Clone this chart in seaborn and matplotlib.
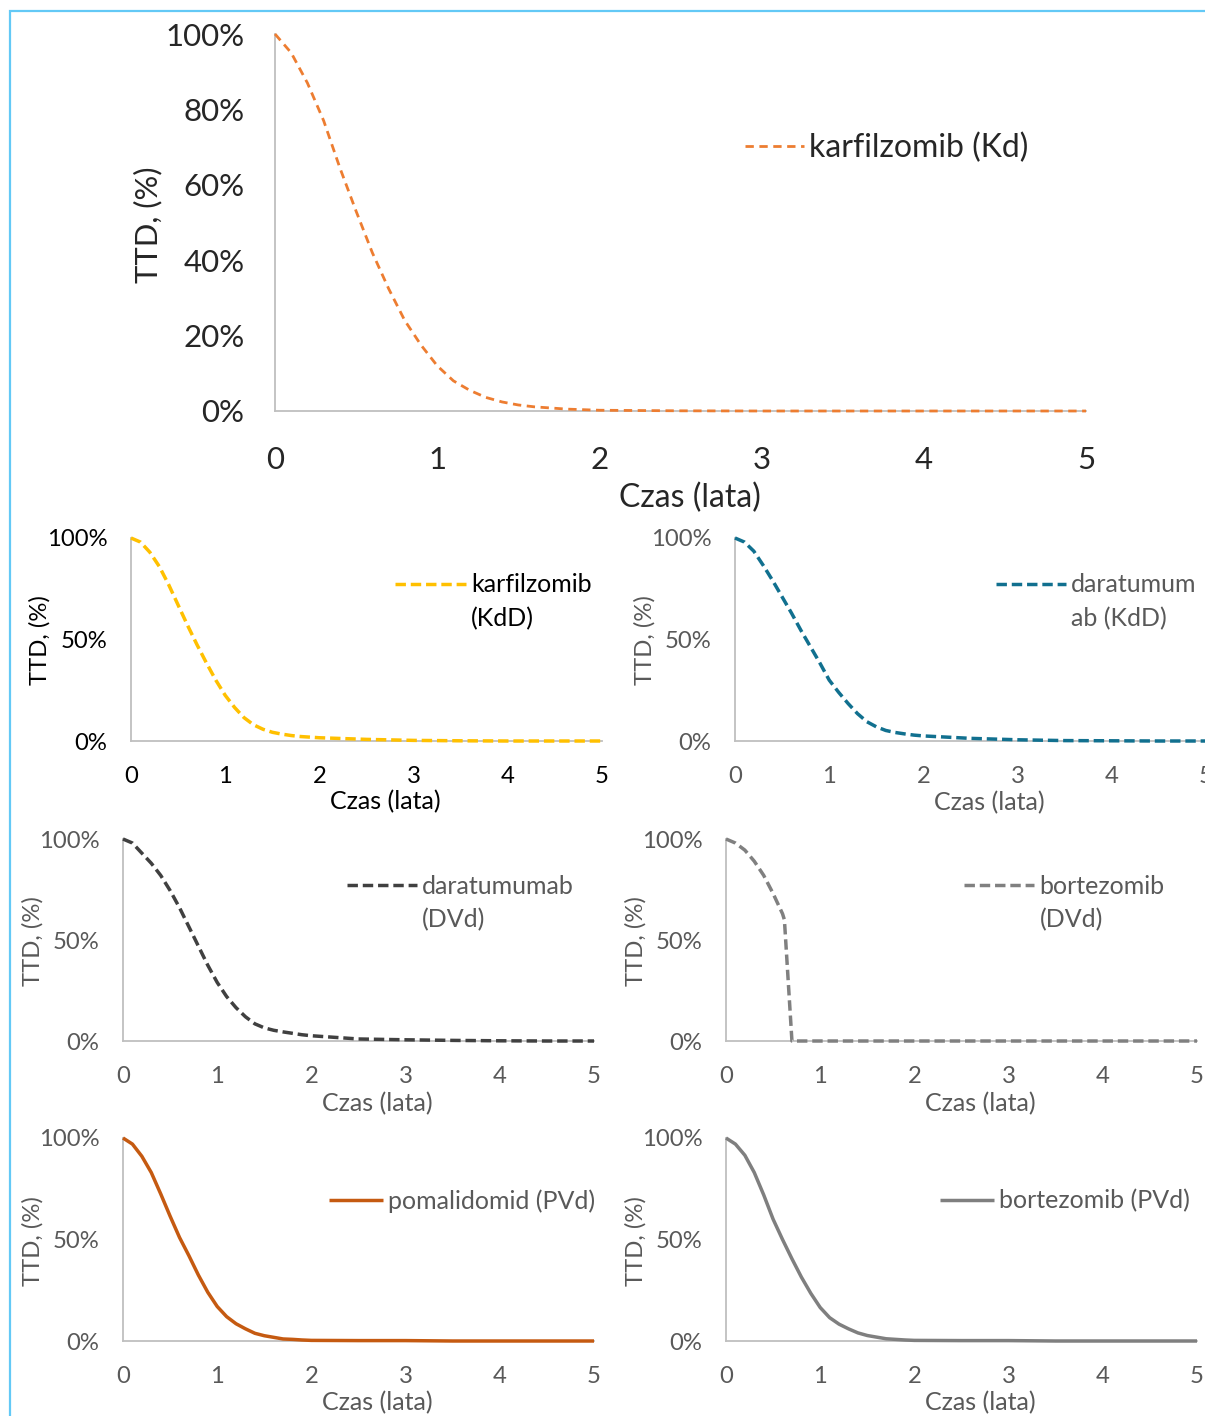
import matplotlib
matplotlib.use("Agg")
import matplotlib.pyplot as plt
import seaborn as sns
import pandas as pd
from matplotlib.patches import Rectangle
from matplotlib.ticker import PercentFormatter

# ---- data: time to discontinuation (%) over time (years) ----
years = [0, 0.1, 0.2, 0.3, 0.4, 0.5, 0.6, 0.7, 0.8, 0.9, 1.0,
         1.1, 1.2, 1.3, 1.4, 1.5, 1.6, 1.7, 1.8, 1.9, 2.0,
         2.5, 3.0, 3.5, 4.0, 4.5, 5.0]

karf_kd = [100, 95, 87, 77, 64.5, 53, 42, 32.5, 24, 17.5, 12,
           8, 5.5, 3.6, 2.4, 1.6, 1.1, 0.8, 0.5, 0.35, 0.2,
           0.05, 0, 0, 0, 0, 0]

karf_kdd = [100, 98, 93, 86, 77, 67, 57, 47.5, 38.5, 30, 22.5,
            16.5, 11.5, 8, 5.8, 4.3, 3.4, 2.7, 2.2, 1.9, 1.6,
            0.8, 0.3, 0.1, 0, 0, 0]

dara_kdd = [100, 98, 93.5, 86.5, 79, 71, 63, 54.5, 46.5, 38.5, 30,
            24, 18.5, 13.5, 9.5, 7, 5.2, 4.2, 3.5, 2.9, 2.5,
            1.3, 0.6, 0.2, 0.1, 0, 0]

dara_dvd = [100, 98, 93, 88, 82, 74.5, 66, 56.5, 47, 37.5, 29,
            22, 16.5, 12, 8.5, 6.5, 5.3, 4.5, 3.8, 3.1, 2.6,
            1.0, 0.6, 0.3, 0.1, 0, 0]

bort_dvd_years = [0, 0.1, 0.2, 0.3, 0.4, 0.5, 0.6, 0.62, 0.7, 1, 2, 3, 4, 5]
bort_dvd = [100, 98, 94.5, 89, 82, 73, 63, 60, 0, 0, 0, 0, 0, 0]

poma_pvd = [100, 97, 91, 83, 72.5, 61.5, 51, 42, 32.5, 24, 17,
            12, 8.5, 6, 3.8, 2.6, 1.8, 1.0, 0.8, 0.5, 0.3,
            0.2, 0.2, 0, 0, 0, 0]

bort_pvd = [100, 97, 91.5, 83, 72, 60, 50, 40.5, 31.5, 23.5, 16.5,
            11.5, 8.3, 6, 4, 2.7, 1.9, 1.1, 0.8, 0.5, 0.3,
            0.2, 0.2, 0, 0, 0, 0]

x_ticks = [0, 1, 2, 3, 4, 5]
y_label = "TTD, (%)"
x_label = "Czas (lata)"

# ---- style ----
sns.set_theme(style="white")
plt.rcParams["font.family"] = ["Lato", "DejaVu Sans"]

W, H = 1205, 1416
fig = plt.figure(figsize=(W / 100, H / 100), dpi=100)

# light blue frame around the figure
fig.patches.append(Rectangle((10 / W, -0.02), 1.0, 1 - 11 / H + 0.02,
                             transform=fig.transFigure, fill=False,
                             edgecolor="#63C9F6", lw=1.6))

GRAY_TXT = "#595959"

small = dict(fs=17.2, lfs=18, xpad=18, ypad=17)
big = dict(fs=22.5, lfs=23, xpad=25, ypad=22)

panels = [
    dict(box=(275, 1086, 34, 411), t=years, v=karf_kd, color="#ED7D31", lw=2.0,
         dash=(3.0, 2.0), lab=("karfilzomib (Kd)", None), leg=(745, 148),
         hl=1.85, htp=0.15, tc="#262626", yt=[0, 20, 40, 60, 80, 100],
         ylab=(148, 225), xlab=(690, 498), **big),
    dict(box=(131, 602, 538, 741), t=years, v=karf_kdd, color="#FFC000", lw=2.5,
         dash=(3.0, 1.4), lab=("karfilzomib", "(KdD)"), leg=(395, 585),
         hl=2.85, htp=0.2, tc="#000000", yt=[0, 50, 100],
         ylab=(40, 640), xlab=(385, 802), **small),
    dict(box=(735, 1206, 538, 741), t=years, v=dara_kdd, color="#11708F", lw=2.5,
         dash=(3.0, 1.4), lab=("daratumum", "ab (KdD)"), leg=(996, 585),
         hl=2.8, htp=0.2, tc=GRAY_TXT, yt=[0, 50, 100],
         ylab=(645, 640), xlab=(989, 803), **small),
    dict(box=(123, 594, 839, 1041), t=years, v=dara_dvd, color="#404040", lw=2.5,
         dash=(3.0, 1.4), lab=("daratumumab", "(DVd)"), leg=(347, 886),
         hl=2.8, htp=0.2, tc=GRAY_TXT, yt=[0, 50, 100],
         ylab=(33, 941), xlab=(377, 1104), **small),
    dict(box=(726, 1197, 839, 1041), t=bort_dvd_years, v=bort_dvd, color="#808080",
         lw=2.5, dash=(3.0, 1.4), lab=("bortezomib", "(DVd)"), leg=(964, 886),
         hl=2.8, htp=0.22, tc=GRAY_TXT, yt=[0, 50, 100],
         ylab=(636, 941), xlab=(980, 1104), **small),
    dict(box=(123, 594, 1138, 1341), t=years, v=poma_pvd, color="#C55A11", lw=2.5,
         dash=None, lab=("pomalidomid (PVd)", None), leg=(329, 1201),
         hl=2.15, htp=0.2, tc=GRAY_TXT, yt=[0, 50, 100],
         ylab=(33, 1241), xlab=(377, 1403), **small),
    dict(box=(726, 1197, 1138, 1341), t=years, v=bort_pvd, color="#7F7F7F", lw=2.5,
         dash=None, lab=("bortezomib (PVd)", None), leg=(940, 1201),
         hl=2.15, htp=0.2, tc=GRAY_TXT, yt=[0, 50, 100],
         ylab=(636, 1241), xlab=(980, 1403), **small),
]

for p in panels:
    x0, x5, top, bottom = p["box"]
    ax = fig.add_axes([x0 / W, 1 - bottom / H, (x5 - x0) / W, (bottom - top) / H])
    df = pd.DataFrame({"czas": p["t"], "ttd": p["v"]})
    sns.lineplot(data=df, x="czas", y="ttd", ax=ax, color=p["color"],
                 lw=p["lw"], estimator=None, sort=False)
    line = ax.lines[-1]
    line.set_clip_on(False)
    line.set_zorder(3)
    line.set_solid_capstyle("butt")
    line.set_dash_capstyle("butt")
    if p["dash"] is not None:
        line.set_dashes(p["dash"])

    ax.set_xlim(0, 5)
    ax.set_ylim(0, 100)
    ax.set_xticks(x_ticks)
    ax.set_yticks(p["yt"])
    ax.yaxis.set_major_formatter(PercentFormatter(100, decimals=0))
    ax.tick_params(axis="both", length=0, labelsize=p["fs"], labelcolor=p["tc"])
    ax.tick_params(axis="x", pad=p["xpad"])
    ax.tick_params(axis="y", pad=p["ypad"])
    ax.grid(False)
    ax.set_facecolor("none")
    for s in ("top", "right"):
        ax.spines[s].set_visible(False)
    for s in ("left", "bottom"):
        ax.spines[s].set_color("#BFBFBF")
        ax.spines[s].set_linewidth(1.3)

    ax.set_ylabel(y_label, fontsize=p["lfs"] - 0.8, color=p["tc"], va="center")
    ax.yaxis.set_label_coords(p["ylab"][0] / W, 1 - p["ylab"][1] / H,
                              transform=fig.transFigure)
    ax.set_xlabel(x_label, fontsize=p["lfs"], color=p["tc"], va="center")
    ax.xaxis.set_label_coords(p["xlab"][0] / W, 1 - p["xlab"][1] / H,
                              transform=fig.transFigure)

    first, second = p["lab"]
    leg = ax.legend([line], [first], loc="center left",
                    bbox_to_anchor=(p["leg"][0] / W, 1 - p["leg"][1] / H),
                    bbox_transform=fig.transFigure, frameon=False,
                    borderpad=0, borderaxespad=0, handlelength=p["hl"],
                    handletextpad=p["htp"], fontsize=p["lfs"], labelcolor=p["tc"])
    leg.set_zorder(5)
    if second is not None:
        # second line of the wrapped legend entry, placed under the first
        ax.annotate(second, xy=(0, 0), xycoords=leg.get_texts()[0],
                    xytext=(0, -7.5), textcoords="offset points",
                    va="top", ha="left", fontsize=p["lfs"], color=p["tc"],
                    zorder=6)

fig.savefig("out.png", dpi=100)
